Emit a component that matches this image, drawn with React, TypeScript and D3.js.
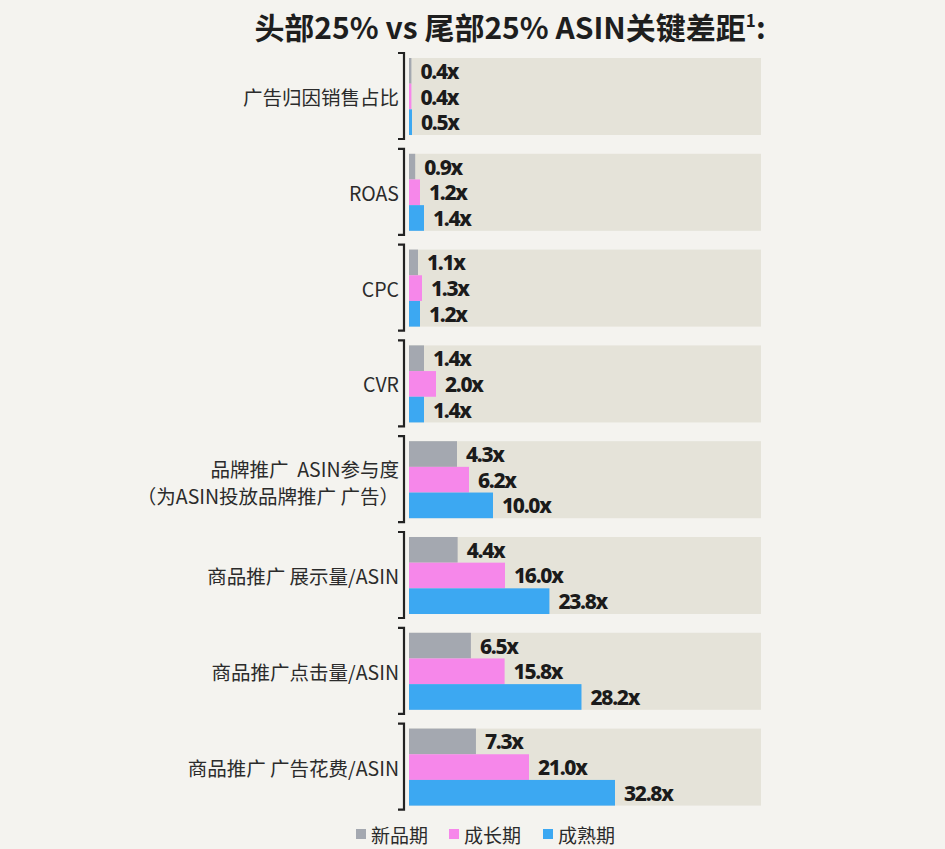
import React from "react";
import * as d3 from "d3";

const title = "头部25% vs 尾部25% ASIN关键差距";
const categories = [
  "广告归因销售占比",
  "ROAS",
  "CPC",
  "CVR",
  "品牌推广  ASIN参与度\n（为ASIN投放品牌推广 广告）",
  "商品推广 展示量/ASIN",
  "商品推广点击量/ASIN",
  "商品推广 广告花费/ASIN",
];
const seriesNames = ["新品期", "成长期", "成熟期"];
const newStage = [0.4, 0.9, 1.1, 1.4, 4.3, 4.4, 6.5, 7.3];
const growthStage = [0.4, 1.2, 1.3, 2.0, 6.2, 16.0, 15.8, 21.0];
const matureStage = [0.5, 1.4, 1.2, 1.4, 10.0, 23.8, 28.2, 32.8];
const seriesValues = [newStage, growthStage, matureStage];
const colors = ["#a4a8b0", "#f687ea", "#3ca8f2"];

const W = 945;
const H = 849;
const panelLeft = 409;
const panelRight = 761;

export default function App() {
  const y = d3
    .scaleBand<string>()
    .domain(categories)
    .range([58, 58 + 7 * 95.8 + 77])
    .paddingInner(0.196)
    .paddingOuter(0);
  const inner = d3
    .scaleBand<string>()
    .domain(seriesNames)
    .range([0, y.bandwidth()])
    .padding(0);
  // non-uniform (polylinear) scale matching the original's bar proportions
  const x = d3
    .scaleLinear()
    .domain([0, 0.5, 1, 2, 4.3, 10, 16, 21, 32.8])
    .range([0, 3, 7, 27, 48, 84, 96, 120, 206].map((d) => panelLeft + d));

  const legendX = [356, 449, 543];

  return (
    <div style={{ position: "absolute", left: 0, top: 0, width: W, height: H, background: "#f4f3ef" }}>
      <svg width={W} height={H} style={{ display: "block" }}>
        <rect x={0} y={0} width={W} height={H} fill="#f4f3ef" />
        <text
          x={510}
          y={39}
          textAnchor="middle"
          fontFamily="'Noto Sans CJK SC', 'Noto Sans', sans-serif"
          fontWeight={700}
          fontSize={30}
          fill="#1e1e1e"
        >
          {title}
          <tspan fontSize={17} dy={-12}>1</tspan>
          <tspan dy={12}>:</tspan>
        </text>
        {categories.map((c, i) => {
          const top = y(c) as number;
          const bw = y.bandwidth();
          const cy = top + bw / 2;
          const lines = c.split("\n");
          return (
            <g key={c}>
              <rect x={panelLeft} y={top} width={panelRight - panelLeft} height={bw} fill="#e5e3d9" />
              <path
                d={`M${398},${top - 5}H${404}V${top + bw + 4}H${398}`}
                fill="none"
                stroke="#222"
                strokeWidth={2.2}
              />
              {lines.map((ln, j) => (
                <text
                  key={j}
                  x={399}
                  y={lines.length === 1 ? cy : cy + 2.5 + (j - 0.5) * 26.5}
                  textAnchor="end"
                  dominantBaseline="central"
                  fontFamily="'Noto Sans CJK SC', 'Noto Sans', sans-serif"
                  fontSize={19.5}
                  fill="#2b2b2b"
                  style={{ whiteSpace: "pre" }}
                >
                  {ln}
                </text>
              ))}
              {seriesNames.map((s, k) => {
                const v = seriesValues[k][i];
                const by = top + (inner(s) as number);
                return (
                  <g key={s}>
                    <rect x={x(0)} y={by} width={x(v) - x(0)} height={inner.bandwidth()} fill={colors[k]} />
                    <text
                      x={x(v) + 9}
                      y={by + inner.bandwidth() / 2}
                      dominantBaseline="central"
                      fontFamily="'Noto Sans', 'DejaVu Sans', sans-serif"
                      fontWeight={800}
                      fontSize={21}
                      letterSpacing={-1.3}
                      fill="#1b1b1b"
                    >
                      {v.toFixed(1) + "x"}
                    </text>
                  </g>
                );
              })}
            </g>
          );
        })}
        {seriesNames.map((s, k) => (
          <g key={s}>
            <rect x={legendX[k]} y={829} width={10} height={10} fill={colors[k]} />
            <text
              x={legendX[k] + 15}
              y={834}
              dominantBaseline="central"
              fontFamily="'Noto Sans CJK SC', 'Noto Sans', sans-serif"
              fontSize={19}
              fill="#2b2b2b"
            >
              {s}
            </text>
          </g>
        ))}
      </svg>
    </div>
  );
}
